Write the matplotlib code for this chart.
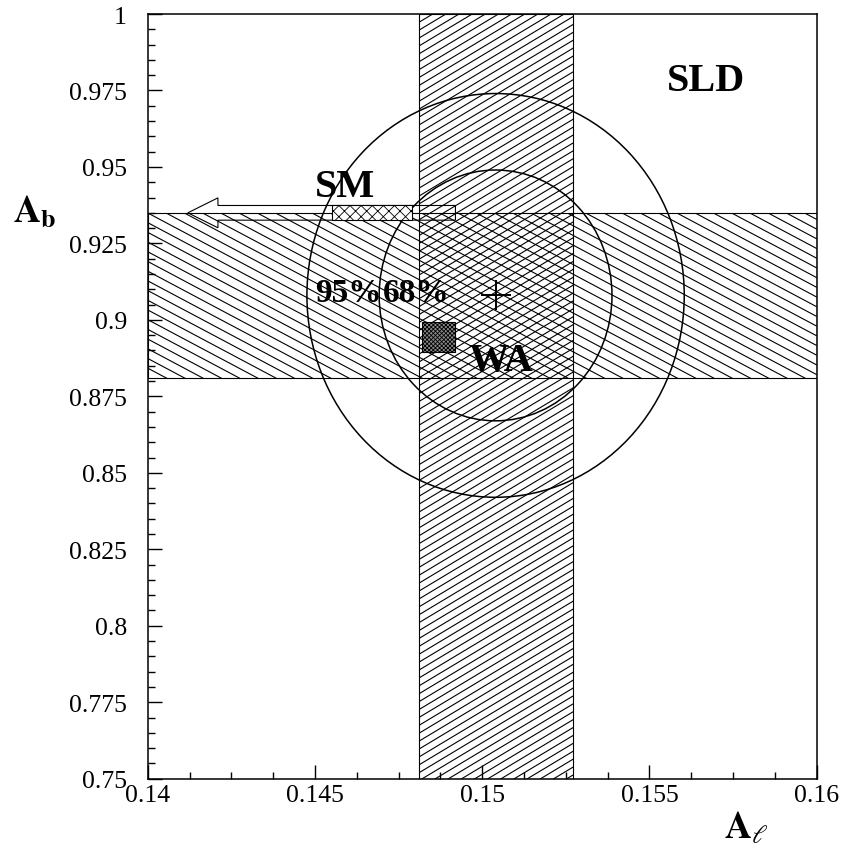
import numpy as np
import matplotlib
matplotlib.use("Agg")
import matplotlib.pyplot as plt
from matplotlib.patches import Rectangle, Ellipse
from matplotlib.collections import LineCollection
from matplotlib.transforms import Affine2D
from matplotlib.ticker import FixedLocator, MultipleLocator

plt.rcParams['font.family'] = ['Liberation Serif', 'DejaVu Serif']
plt.rcParams['mathtext.fontset'] = 'stix'
plt.rcParams['hatch.linewidth'] = 0.6

# ---------------- data ----------------
al_band = [0.1481, 0.1527]          # A_l (SLD) band
ab_band = [0.881, 0.935]            # A_b band
fit_center = [0.1504, 0.908]        # best fit point (A_l, A_b)
contour_labels = ['68%', '95%']
contour_half_al = [0.00348, 0.00564]
contour_half_ab = [0.0410, 0.0660]

sm_box_al = [0.1455, 0.1479]        # SM prediction range
sm_ab = [0.9326, 0.9374]
sm_arrow_al = [0.1492, 0.1412]      # arrow start (right) -> tip (left)
sm_arrow_head_ab = [0.9301, 0.9399]
sm_arrow_head_len = 0.0009

wa_al = [0.1482, 0.1492]            # world average box
wa_ab = [0.8894, 0.8994]

xticks = [0.14, 0.145, 0.15, 0.155, 0.16]
xticklabels = ['0.14', '0.145', '0.15', '0.155', '0.16']
yticks = [0.75, 0.775, 0.8, 0.825, 0.85, 0.875, 0.9, 0.925, 0.95, 0.975, 1.0]
yticklabels = ['0.75', '0.775', '0.8', '0.825', '0.85', '0.875', '0.9',
               '0.925', '0.95', '0.975', '1']

# ---------------- figure ----------------
fig = plt.figure(figsize=(8.47, 8.54), dpi=100)
ax = fig.add_axes([0.17438, 0.0870, 0.78985, 0.89543])
ax.set_xlim(0.14, 0.16)
ax.set_ylim(0.75, 1.0)

bb = ax.get_window_extent()
W, H = bb.width, bb.height
pix = Affine2D().scale(1.0 / W, 1.0 / H) + ax.transAxes


def hatch_rect(x0, x1, y0, y1, angle, vspacing, lw=0.8):
    clip = Rectangle((x0, y0), x1 - x0, y1 - y0, transform=ax.transData,
                     facecolor='none', edgecolor='none')
    t = np.tan(np.radians(angle))
    cs = np.arange(-abs(t) * W - vspacing, H + abs(t) * W + vspacing, vspacing)
    segs = [[(0, c), (W, t * W + c)] for c in cs]
    lc = LineCollection(segs, colors='k', linewidths=lw, transform=pix, zorder=1)
    ax.add_collection(lc, autolim=False)
    lc.set_clip_path(clip)
    ax.add_patch(Rectangle((x0, y0), x1 - x0, y1 - y0, facecolor='none',
                           edgecolor='k', lw=0.8, zorder=2))


# vertical A_l band (lines rising to the right)
hatch_rect(al_band[0], al_band[1], 0.75, 1.0, 31, 7.9)
# horizontal A_b band (lines falling to the right)
hatch_rect(0.14, 0.16, ab_band[0], ab_band[1], -28, 9.7)

# contours
for lab, ha_, hb_ in zip(contour_labels, contour_half_al, contour_half_ab):
    ax.add_patch(Ellipse((fit_center[0], fit_center[1]), 2 * ha_, 2 * hb_,
                         facecolor='none', edgecolor='k', lw=1.1, zorder=3))

ax.plot([fit_center[0]], [fit_center[1]], marker='+', color='k', ms=22,
        mew=1.4, zorder=4)

# SM arrow and box
ax.arrow(sm_arrow_al[0], np.mean(sm_ab), sm_arrow_al[1] - sm_arrow_al[0], 0,
         width=sm_ab[1] - sm_ab[0],
         head_width=sm_arrow_head_ab[1] - sm_arrow_head_ab[0],
         head_length=sm_arrow_head_len, length_includes_head=True,
         fill=False, edgecolor='k', lw=0.8, zorder=4)
ax.add_patch(Rectangle((sm_box_al[0], sm_ab[0]), sm_box_al[1] - sm_box_al[0],
                       sm_ab[1] - sm_ab[0], facecolor='white', edgecolor='k',
                       hatch='xxx', lw=0.8, zorder=5))

# WA box
ax.add_patch(Rectangle((wa_al[0], wa_ab[0]), wa_al[1] - wa_al[0],
                       wa_ab[1] - wa_ab[0], facecolor='#8a8a8a', edgecolor='k',
                       hatch='xxxxxxxx', lw=0.8, zorder=5))

# texts
tkw = dict(fontsize=29, fontweight='bold', ha='left', va='baseline', zorder=6)
ax.text(0.1450, 0.9405, 'SM', **tkw)
ax.text(0.15553, 0.9752, 'SLD', **tkw)
ax.text(0.14958, 0.8837, 'WA', **tkw)
ax.text(0.1450, 0.9063, '95%', fontsize=24, fontweight='bold', ha='left',
        va='baseline', zorder=6)
ax.text(0.14703, 0.9063, '68%', fontsize=24, fontweight='bold', ha='left',
        va='baseline', zorder=6)

# axes styling
ax.xaxis.set_major_locator(FixedLocator(xticks))
ax.set_xticklabels(xticklabels)
ax.yaxis.set_major_locator(FixedLocator(yticks))
ax.set_yticklabels(yticklabels)
ax.xaxis.set_minor_locator(MultipleLocator(0.00125))
ax.yaxis.set_minor_locator(MultipleLocator(0.005))
ax.tick_params(which='both', direction='in', top=False, right=False,
               width=1.0, labelsize=18.5)
ax.tick_params(which='major', length=10)
ax.tick_params(which='minor', length=5)
ax.tick_params(axis='y', pad=15)
ax.tick_params(axis='x', pad=4)
for s in ax.spines.values():
    s.set_linewidth(1.1)

fig.text(13 / 847, (854 - 222) / 854, r'$\mathbf{A}_{\mathbf{b}}$', fontsize=27,
         ha='left', va='baseline')
fig.text(724 / 847, (854 - 838) / 854, r'$\mathbf{A}_{\ell}$', fontsize=27,
         ha='left', va='baseline')

fig.savefig('out.png', dpi=100)
